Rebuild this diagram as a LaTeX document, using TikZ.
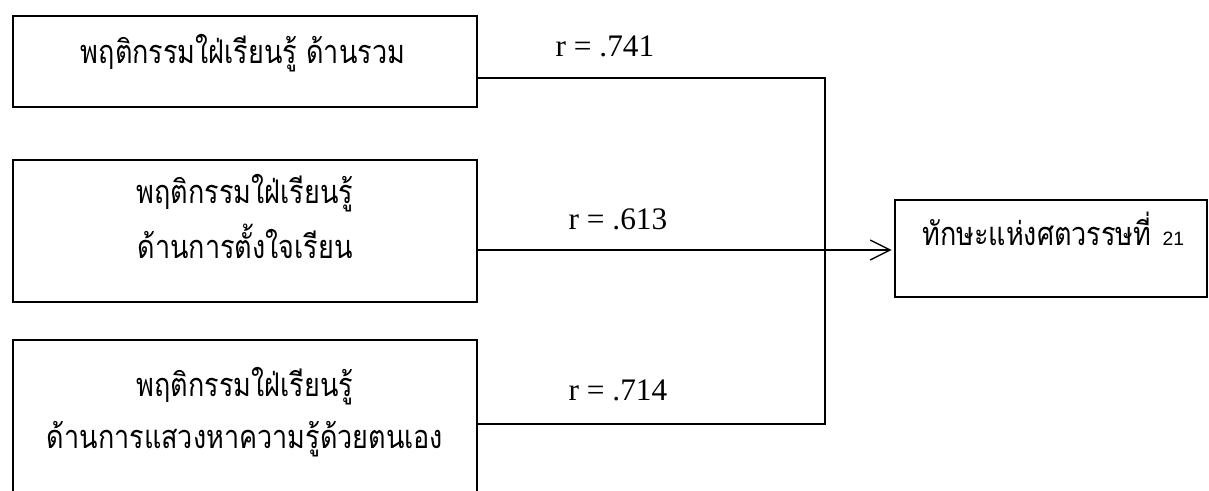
\documentclass[tikz,border=0pt]{standalone}
\usepackage{fontspec}
\usepackage{graphicx}
\setmainfont{Liberation Serif}
\newfontfamily\thaifont[Script=Thai]{Loma}
\newfontfamily\digfont{Liberation Sans}
\newcommand{\thx}[1]{\scalebox{0.83}[1]{#1}}
\usetikzlibrary{arrows.meta}
\begin{document}
\begin{tikzpicture}[x=0.75pt,y=-0.75pt,
  box/.style={draw,line width=1pt,rectangle,inner sep=0pt,minimum width=348pt},
  th/.style={font=\thaifont\fontsize{24.4}{28}\selectfont,anchor=base,inner sep=0pt},
  rl/.style={font=\fontsize{23.5}{28}\selectfont,inner sep=0pt,anchor=base},
  conn/.style={line width=1pt}]
\useasboundingbox (0,0) rectangle (1209,491);
\clip (0,0) rectangle (1209,491);
\node[box,minimum height=68.25pt] (b1) at (245,61.5) {};
\node[box,minimum height=106.5pt] (b2) at (245,231) {};
\node[box,minimum height=135pt] (b3) at (245,430) {};
\node[box,minimum width=234pt,minimum height=72.75pt] (out) at (1051,248.5) {};
\node[th] (t1) at (243,64) {\thx{พฤติกรรมใฝ่เรียนรู้ ด้านรวม}};
\node[th] (t2a) at (245,204) {\thx{พฤติกรรมใฝ่เรียนรู้}};
\node[th] (t2b) at (245,259) {\thx{ด้านการตั้งใจเรียน}};
\node[th] (t3a) at (245,396) {\thx{พฤติกรรมใฝ่เรียนรู้}};
\node[th] (t3b) at (245,448) {\thx{ด้านการแสวงหาความรู้ด้วยตนเอง}};
\node[th,anchor=base west] (t4) at (922,246) {\thx{ทักษะแห่งศตวรรษที่} {\digfont\fontsize{14.5}{15}\selectfont 21}};
\node[rl] (r1) at (605,57) {r = .741};
\node[rl] (r2) at (618,230) {r = .613};
\node[rl] (r3) at (618,400) {r = .714};
\coordinate (j1) at (825,78);
\coordinate (j3) at (825,424);
\draw[conn] (b1.east |- j1) -- (j1) -- (j3) -- (b3.east |- j3);
\draw[conn,-{Straight Barb[length=15pt,width=15pt,line width=1pt]}] (b2.east |- 0,250) -- ([xshift=-2pt]out.west |- 0,250);
\end{tikzpicture}
\end{document}
